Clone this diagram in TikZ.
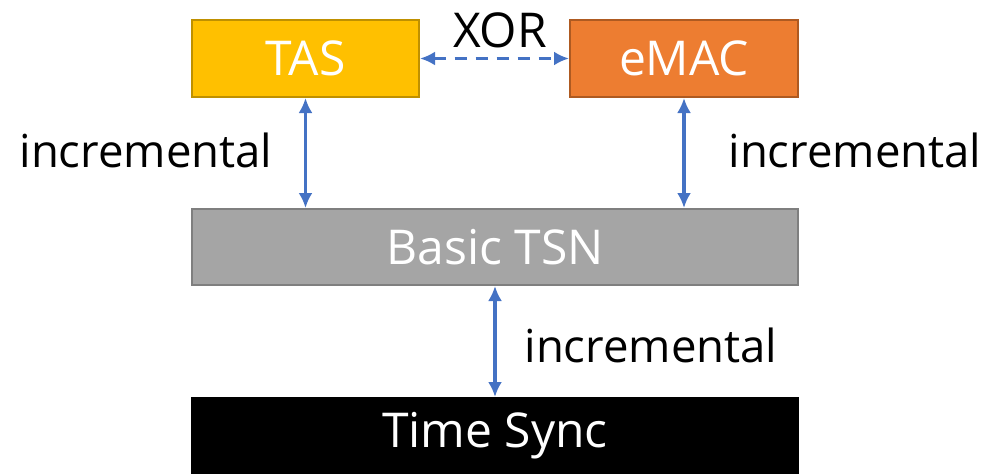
\documentclass[tikz,border=0pt]{standalone}
\usepackage{fontspec}
\setmainfont{Open Sans}
\usetikzlibrary{arrows.meta}
\definecolor{tasfill}{HTML}{FFC000}
\definecolor{tasdraw}{HTML}{BF9000}
\definecolor{emacfill}{HTML}{ED7D31}
\definecolor{emacdraw}{HTML}{AE5A21}
\definecolor{tsnfill}{HTML}{A5A5A5}
\definecolor{tsndraw}{HTML}{7F7F7F}
\definecolor{arrowblue}{HTML}{4472C4}
\tikzset{
  box/.style={rectangle, line width=2pt, inner sep=0pt, text=white, font=\fontsize{48}{54}\selectfont},
  lbl/.style={inner sep=0pt, text=black, font=\fontsize{45.5}{52}\selectfont},
  conn/.style={draw=arrowblue, line width=3.5pt, {Latex[length=15pt,width=14pt]}-{Latex[length=15pt,width=14pt]}},
}
\begin{document}
\begin{tikzpicture}[x=1pt,y=-1pt]
\useasboundingbox (0,0) rectangle (987,474);
\node[box, fill=tasfill, draw=tasdraw, minimum width=227pt, minimum height=77pt] (tas) at (305.5,58.5) {TAS};
\node[box, fill=emacfill, draw=emacdraw, minimum width=228pt, minimum height=77pt] (emac) at (684,58.5) {eMAC};
\node[box, fill=tsnfill, draw=tsndraw, minimum width=606pt, minimum height=76pt] (tsn) at (495,247) {Basic TSN};
\node[box, fill=black, draw=black, minimum width=606pt, minimum height=75pt] (sync) at (495,435.5) {Time Sync};
\draw[conn, dashed, dash pattern=on 12pt off 9pt] (tas.east) -- (emac.west);
\draw[conn] (tas.south) -- (tas.south |- tsn.north);
\draw[conn] (emac.south) -- (emac.south |- tsn.north);
\draw[conn] (tsn.south) -- (sync.north);
\node[lbl, font=\fontsize{48}{54}\selectfont] (xor) at (500,30) {XOR};
\node[lbl] (l1) at (146,150) {incremental};
\node[lbl] (l2) at (855,150) {incremental};
\node[lbl] (l3) at (651,345) {incremental};
\end{tikzpicture}
\end{document}
